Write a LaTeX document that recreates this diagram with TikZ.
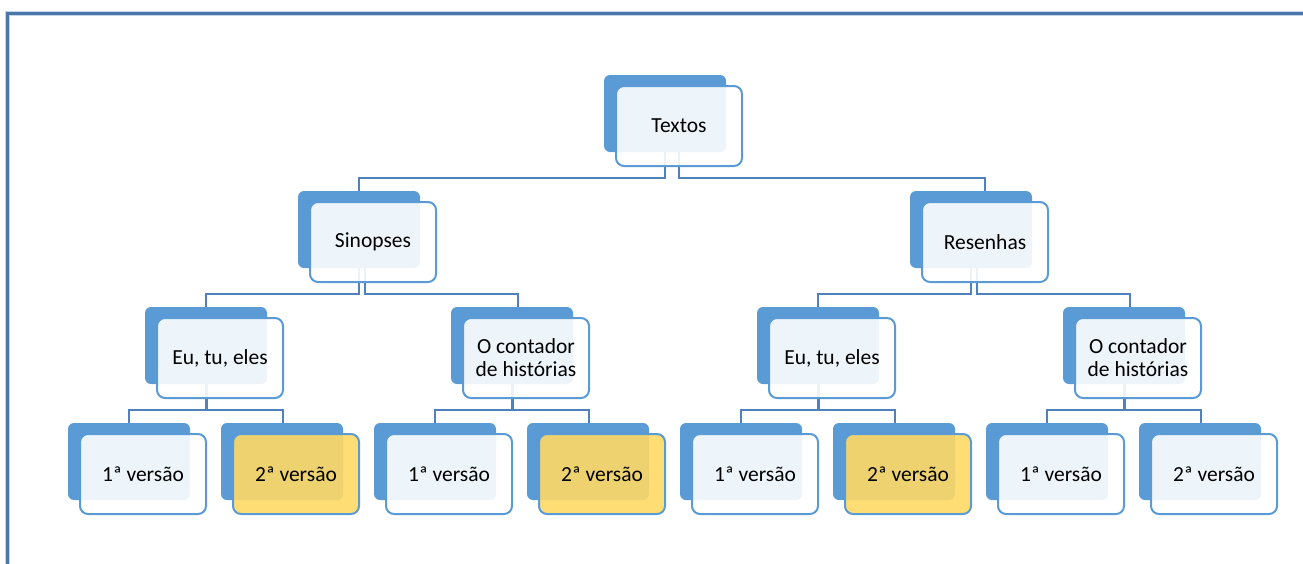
\documentclass[tikz,border=0pt]{standalone}
\usepackage{fontspec}
\setmainfont{Carlito}
\usepackage{xcolor}
\definecolor{backblue}{RGB}{91,155,213}
\definecolor{lineblue}{RGB}{79,129,189}
\definecolor{framedark}{RGB}{74,118,168}
\definecolor{framelight}{RGB}{196,214,236}
\definecolor{versaoyellow}{RGB}{255,217,102}
\usetikzlibrary{positioning, calc, backgrounds}

\begin{document}
\begin{tikzpicture}[
    x=1pt, y=1pt,
    backbox/.style={rectangle, fill=backblue, rounded corners=6pt, minimum width=122pt, minimum height=77pt, inner sep=0pt},
    frontbox/.style={rectangle, draw=backblue, line width=2pt, fill=white, fill opacity=0.9, draw opacity=1, text opacity=1, rounded corners=8pt, minimum width=126pt, minimum height=80pt, inner sep=0pt, align=center, font=\fontsize{21.5}{23}\selectfont},
    marked/.style={frontbox, fill=versaoyellow},
    conn/.style={draw=lineblue, line width=2.2pt}
]
    \useasboundingbox (0,0) rectangle (1303,-563);

    % Frame
    \draw[framelight, line width=5pt] (7,-580) -- (7,-13) -- (1320,-13);
    \draw[framedark, line width=3pt] (7,-580) -- (7,-13) -- (1320,-13);

    % Top level
    \node[backbox] (textos-b) at (665,-113.5) {};
    \node[frontbox] (textos) at ([xshift=14pt,yshift=-12.5pt]textos-b.center) {Textos};

    % Second level
    \node[backbox] (sinopses-b) at (359,-229.5) {};
    \node[frontbox] (sinopses) at ([xshift=14pt,yshift=-12.5pt]sinopses-b.center) {Sinopses};
    \node[backbox] (resenhas-b) at (971,-229.5) {};
    \node[frontbox] (resenhas) at ([xshift=14pt,yshift=-12.5pt]resenhas-b.center) {Resenhas};

    % Third level
    \node[backbox] (eu1-b) at (206,-345.5) {};
    \node[frontbox] (eu1) at ([xshift=14pt,yshift=-12.5pt]eu1-b.center) {Eu, tu, eles};
    \node[backbox] (cont1-b) at (512,-345.5) {};
    \node[frontbox] (cont1) at ([xshift=14pt,yshift=-12.5pt]cont1-b.center) {O contador\\de histórias};
    \node[backbox] (eu2-b) at (818,-345.5) {};
    \node[frontbox] (eu2) at ([xshift=14pt,yshift=-12.5pt]eu2-b.center) {Eu, tu, eles};
    \node[backbox] (cont2-b) at (1124,-345.5) {};
    \node[frontbox] (cont2) at ([xshift=14pt,yshift=-12.5pt]cont2-b.center) {O contador\\de histórias};

    % Versions
    \foreach \i/\txt/\sty in {1/1ª versão/frontbox, 2/2ª versão/marked, 3/1ª versão/frontbox, 4/2ª versão/marked,
                              5/1ª versão/frontbox, 6/2ª versão/marked, 7/1ª versão/frontbox, 8/2ª versão/frontbox} {
        \node[backbox] (v\i-b) at ({129+153*(\i-1)},-461.5) {};
        \node[\sty] (v\i) at ([xshift=14pt,yshift=-12.5pt]v\i-b.center) {\txt};
    }

    % Connectors
    \begin{scope}[on background layer]
        \foreach \p/\c/\d in {textos/sinopses/0, textos/resenhas/14,
                              sinopses/eu1/0, sinopses/cont1/6, resenhas/eu2/0, resenhas/cont2/6,
                              eu1/v1/0, eu1/v2/1, cont1/v3/0, cont1/v4/1,
                              eu2/v5/0, eu2/v6/1, cont2/v7/0, cont2/v8/1}
            \draw[conn] ([xshift=\d pt]\p-b.center) |- ([xshift=\d pt,yshift=13pt]\c-b.north) -- ([xshift=\d pt]\c-b.north);
    \end{scope}
\end{tikzpicture}
\end{document}
